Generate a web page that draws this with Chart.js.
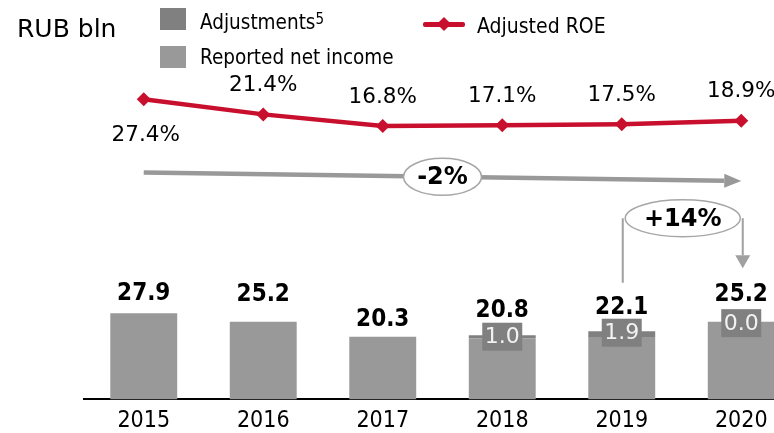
<!DOCTYPE html>
<html>
<head>
<meta charset="utf-8">
<script src="https://cdn.jsdelivr.net/npm/chart.js@4/dist/chart.umd.min.js"></script>
<style>
  html, body { margin: 0; padding: 0; background: #fff; overflow: hidden; width: 774px; height: 433px; }
  #wrap { position: relative; width: 774px; height: 433px; overflow: hidden; }
  #wrap canvas { position: absolute; left: 0; top: 0; }
  .lg { position: absolute; white-space: nowrap; line-height: 1; color: #000;
        font-family: "DejaVu Sans Condensed", "DejaVu Sans", sans-serif; }
  .sw { position: absolute; width: 26px; height: 22px; }
  .roe-line { position: absolute; left: 423px; top: 22px; width: 42px; height: 4.5px; background: #c8102e; border-radius: 2px; }
  .roe-dot { position: absolute; left: 439px; top: 19px; width: 10px; height: 10px; background: #c8102e; transform: rotate(45deg); }
</style>
</head>
<body>
<div id="wrap">
  <canvas id="chart" width="801" height="443"></canvas>

  <div class="lg" style="left:17px; top:16px; font-size:25px; font-family:'DejaVu Sans', sans-serif;">RUB bln</div>

  <div class="sw" style="left:160px; top:8px; background:#808080;"></div>
  <div class="lg" style="left:200px; top:12px; font-size:20.5px;">Adjustments<span style="font-size:15px; position:relative; top:-5px;">5</span></div>

  <div class="sw" style="left:160px; top:46px; background:#999999;"></div>
  <div class="lg" style="left:200px; top:47px; font-size:20.5px;">Reported net income</div>

  <div class="roe-line"></div>
  <div class="roe-dot"></div>
  <div class="lg" style="left:477px; top:16px; font-size:21px;">Adjusted ROE</div>
</div>

<script>
// Net income, RUB bln
const years = ['2015', '2016', '2017', '2018', '2019', '2020'];
const reportedNetIncome = [27.9, 25.2, 20.3, 19.8, 20.2, 25.2];
const adjustments = [null, null, null, 1.0, 1.9, 0.0];
// Adjusted ROE, %
const adjustedRoe = [27.4, 21.4, 16.8, 17.1, 17.5, 18.9];
// Change callouts
const roeChangeLabel = '-2%';
const incomeChangeLabel = '+14%';

const RED = '#c8102e';
const GREY = '#999999';
const DARK_GREY = '#808080';
const COND = '"DejaVu Sans Condensed", "DejaVu Sans", sans-serif';
const SANS = '"DejaVu Sans", sans-serif';

function stackTotal(i) {
  return reportedNetIncome[i] + (adjustments[i] || 0);
}

// Value labels, adjustment tags and the two change callouts
const chartLabels = {
  id: 'chartLabels',
  afterDatasetsDraw(chart, args, opts) {
    const { ctx, scales: { x, y } } = chart;
    ctx.save();
    ctx.textAlign = 'center';
    ctx.textBaseline = 'middle';

    // ROE labels
    const roeMeta = chart.getDatasetMeta(2);
    ctx.font = '21.5px ' + SANS;
    ctx.fillStyle = '#000';
    roeMeta.data.forEach((pt, i) => {
      const dy = opts.roeBelow[i] ? 36 : -29;
      ctx.fillText(adjustedRoe[i].toFixed(1) + '%', pt.x + (opts.roeBelow[i] ? 2 : 0), pt.y + dy);
    });

    // Totals and adjustment tags
    years.forEach((yr, i) => {
      const cx = x.getPixelForValue(i);
      const total = stackTotal(i);
      const top = y.getPixelForValue(total);
      if (adjustments[i] !== null) {
        ctx.font = '22px ' + SANS;
        const txt = adjustments[i].toFixed(1);
        const w = ctx.measureText(txt).width + 5;
        const h = 28;
        const cy = top + 1.5;
        ctx.fillStyle = DARK_GREY;
        ctx.fillRect(cx - w / 2, cy - h / 2, w, h);
        ctx.fillStyle = '#f2f2f2';
        ctx.fillText(txt, cx, cy + 1);
      }
      ctx.font = 'bold 24px ' + COND;
      ctx.fillStyle = '#000';
      ctx.fillText(total.toFixed(1), cx, top - opts.totalLift[i]);
    });

    // Long grey trend arrow across all years
    const ax0 = x.getPixelForValue(0), ay0 = y.getPixelForValue(73.5);
    const ax1 = x.getPixelForValue(5), ay1 = y.getPixelForValue(70.8);
    const ang = Math.atan2(ay1 - ay0, ax1 - ax0);
    const headLen = 17, headHalf = 7;
    const bx = ax1 - headLen * Math.cos(ang), by = ay1 - headLen * Math.sin(ang);
    ctx.strokeStyle = GREY;
    ctx.lineWidth = 4.5;
    ctx.beginPath();
    ctx.moveTo(ax0, ay0);
    ctx.lineTo(bx, by);
    ctx.stroke();
    ctx.fillStyle = GREY;
    ctx.beginPath();
    ctx.moveTo(ax1, ay1);
    ctx.lineTo(bx + headHalf * Math.sin(ang), by - headHalf * Math.cos(ang));
    ctx.lineTo(bx - headHalf * Math.sin(ang), by + headHalf * Math.cos(ang));
    ctx.closePath();
    ctx.fill();

    const ex = (x.getPixelForValue(2) + x.getPixelForValue(3)) / 2;
    const ey = ay0 + (ay1 - ay0) * (ex - ax0) / (ax1 - ax0);
    drawBubble(ctx, ex, ey, 39, 18.5, roeChangeLabel);

    // Bracket from 2019 to 2020
    const lx = x.getPixelForValue(4) + 1, rx = x.getPixelForValue(5) + 1.5;
    const by2 = y.getPixelForValue(58.7);
    const leftEnd = y.getPixelForValue(37.8);
    const tipY = y.getPixelForValue(42.5);
    ctx.strokeStyle = '#a0a0a0';
    ctx.lineWidth = 2;
    ctx.beginPath();
    ctx.moveTo(lx, leftEnd);
    ctx.lineTo(lx, by2);
    ctx.moveTo(rx, by2);
    ctx.lineTo(rx, tipY - 13);
    ctx.stroke();
    ctx.fillStyle = '#a0a0a0';
    ctx.beginPath();
    ctx.moveTo(rx, tipY);
    ctx.lineTo(rx - 7.5, tipY - 13);
    ctx.lineTo(rx + 7.5, tipY - 13);
    ctx.closePath();
    ctx.fill();
    drawBubble(ctx, (lx + rx) / 2, by2, 57.5, 18.5, incomeChangeLabel);

    ctx.restore();
  }
};

function drawBubble(ctx, cx, cy, rx, ry, text) {
  ctx.beginPath();
  ctx.ellipse(cx, cy, rx, ry, 0, 0, Math.PI * 2);
  ctx.fillStyle = '#fff';
  ctx.fill();
  ctx.strokeStyle = '#a6a6a6';
  ctx.lineWidth = 1.5;
  ctx.stroke();
  ctx.font = 'bold 24px ' + SANS;
  ctx.fillStyle = '#000';
  ctx.textAlign = 'center';
  ctx.textBaseline = 'middle';
  ctx.fillText(text, cx, cy + 1);
}

new Chart(document.getElementById('chart'), {
  type: 'bar',
  data: {
    labels: years,
    datasets: [
      {
        label: 'Reported net income',
        data: reportedNetIncome,
        backgroundColor: GREY,
        stack: 'income',
        order: 2,
        categoryPercentage: 1,
        barPercentage: 0.56
      },
      {
        label: 'Adjustments',
        data: adjustments,
        backgroundColor: DARK_GREY,
        stack: 'income',
        order: 2,
        categoryPercentage: 1,
        barPercentage: 0.56
      },
      {
        type: 'line',
        label: 'Adjusted ROE',
        data: adjustedRoe,
        yAxisID: 'y2',
        borderColor: RED,
        backgroundColor: RED,
        borderWidth: 4.5,
        pointStyle: 'rectRot',
        pointRadius: 7,
        pointBorderWidth: 0,
        tension: 0,
        order: 0
      }
    ]
  },
  options: {
    responsive: false,
    animation: false,
    events: [],
    layout: { autoPadding: false, padding: { left: 84, right: 0, top: 60, bottom: 0 } },
    plugins: {
      legend: { display: false },
      tooltip: { enabled: false },
      chartLabels: {
        roeBelow: [true, false, false, false, false, false],
        totalLift: [19.5, 27, 17, 24, 23.5, 27]
      }
    },
    scales: {
      x: {
        stacked: true,
        grid: { display: false, drawTicks: false },
        border: { display: true, color: '#000', width: 2 },
        ticks: { color: '#000', padding: 8, font: { family: COND, size: 23 } }
      },
      y: { stacked: true, display: false, min: 0, max: 110 },
      y2: { display: false, min: -91.8, max: 43 }
    }
  },
  plugins: [chartLabels]
});
</script>
</body>
</html>
